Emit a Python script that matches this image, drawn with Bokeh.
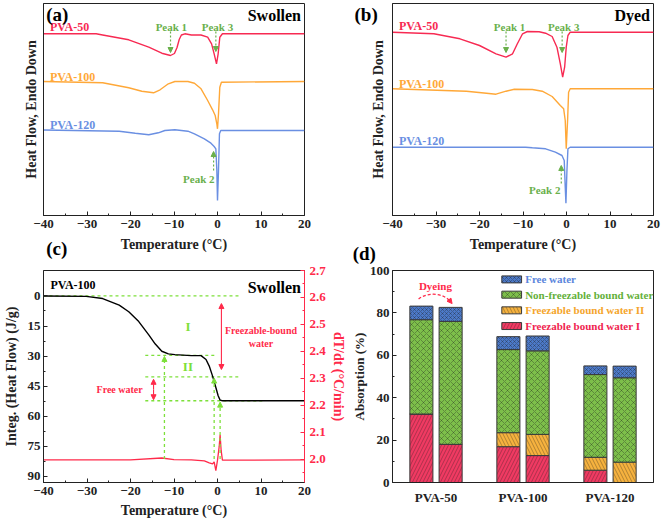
import numpy as np
from bokeh.plotting import figure
from bokeh.models import (Range1d, LinearAxis, Label, Arrow, NormalHead, GridBox,
                          FixedTicker, ColumnDataSource, PrintfTickFormatter)
from bokeh.embed import file_html
from bokeh.resources import INLINE

FONT = "Liberation Serif"

# ---------------- data ----------------
# (a) Swollen DSC curves (temperature in degC, heat flow in arbitrary offset units)
a50_T = [-40, -27.9, -26.4, -20.4, -15.8, -12.8, -10.8, -9.9, -9.3, -8.8, -8.3, -7.5, -6.0, -3.8,
         -2.26, -1.36, -0.77, -0.23, 0.15, 0.53, 1.13, 20]
a50_H = [181.7, 181.7, 180.5, 175.7, 168.3, 162.3, 160.0, 162.0, 168.0, 176.0, 180.5, 181.7, 180.5,
         180.5, 178.3, 171.7, 161.7, 151.7, 161.7, 178.3, 181.7, 181.7]
a100_T = [-40, -26.4, -20.4, -17.4, -14.7, -13.2, -11.3, -9.8, -6.8, -5.3, -3.78, -2.26, -1.13,
          -0.53, -0.15, 0.0, 0.23, 0.53, 0.9, 20]
a100_H = [134, 132.7, 127.7, 124.3, 122.7, 125.7, 131.7, 134, 134, 132.3, 126.7, 115, 105.7,
          100, 91.7, 86.7, 101.7, 128.3, 133.3, 134]
a120_T = [-40, -22.6, -18.9, -15.8, -13.6, -12.1, -9.8, -6.8, -5.3, -3.02, -1.51, -0.77, -0.38,
          -0.15, 0.0, 0.23, 0.45, 0.75, 20]
a120_H = [85.5, 84.3, 82.3, 80.7, 82.7, 85.0, 85.7, 84.3, 81.7, 76.7, 72.3, 69.0, 66.7,
          45.0, 15.0, 45.0, 81.7, 85.0, 85.0]

# (b) Dyed DSC curves
b50_T = [-40, -30.5, -24.5, -20.0, -16.2, -13.9, -12.4, -11.3, -10.1, -9.0, -6.3, -4.8, -3.3,
         -2.2, -1.42, -0.88, -0.43, -0.06, 0.33, 0.85, 20]
b50_H = [183.3, 181.7, 176.7, 170.0, 161.7, 158.3, 161.7, 171.7, 181.7, 184.0, 183.7, 182.3,
         179.0, 168.3, 151.7, 138.3, 148.3, 168.3, 180.0, 183.3, 183.3]
b100_T = [-40, -23.0, -18.4, -16.2, -13.9, -12.0, -7.85, -5.58, -3.3, -1.42, -0.65, -0.29,
          -0.06, 0.25, 0.48, 0.85, 20]
b100_H = [126.7, 124.3, 122.3, 121.3, 124.3, 126.3, 126.0, 124.3, 119.0, 110.0, 106.7, 95.0,
          66.7, 95.0, 123.3, 126.7, 126.7]
b120_T = [-40, -9.4, -7.85, -4.8, -2.56, -1.04, -0.52, -0.29, -0.13, 0.1, 0.33, 0.85, 20]
b120_H = [68.3, 68.3, 67.7, 66.7, 63.3, 60.0, 55.0, 28.3, 12.3, 45.0, 66.7, 68.3, 68.3]

# (c) PVA-100 swollen: integrated heat flow (J/g) and heating rate dT/dt (degC/min)
c_T = [-40, -30.2, -26.4, -22.6, -20.4, -18.1, -15.8, -14.3, -12.8, -11.3, -9.8, -6.04, -3.78,
       -2.64, -1.9, -1.13, -0.38, 0.15, 0.6, 1.13, 20]
c_J = [0, 0.2, 1.3, 4.6, 7.9, 12.8, 19.4, 24.0, 27.6, 28.9, 29.3, 29.8, 29.8,
       31.7, 35.0, 40.0, 45.7, 49.8, 52.0, 52.3, 52.3]
r_T = [-40, -20, -12.8, -10, -6, -3.02, -1.9, -1.13, -0.77, -0.38, 0.0, 0.38, 0.6, 0.83, 1.13, 20]
r_R = [1.997, 1.997, 2.004, 1.998, 1.997, 1.993, 1.986, 1.982, 1.990, 1.957, 1.996, 2.045,
       2.09, 2.033, 1.996, 1.997]
c_levels = [0, 29.7, 40.4, 52.3]           # J/g levels of the guide lines
c_level_from = [-40, -16.6, -16.6, -16.6]
c_level_to = [5.1, -0.15, 5.1, 10.6]
c_peak_T = [-12.2, -0.77, 0.6]              # temperatures of the vertical guides
c_peak_to = [30.2, 41.0, 53.0]

# (d) Absorption (%) by water type: Swollen (left bar) and Dyed (right bar)
groups = ["PVA-50", "PVA-100", "PVA-120"]
sw_I = [32.3, 16.9, 5.8]
sw_II = [0.0, 6.6, 6.1]
sw_NF = [44.5, 39.2, 39.0]
sw_Free = [6.4, 6.1, 4.1]
dy_I = [18.0, 12.7, 0.0]
dy_II = [0.0, 10.0, 9.6]
dy_NF = [58.0, 39.4, 39.8]
dy_Free = [6.6, 7.0, 5.5]
series_names = ["Freezable bound water I", "Freezable bound water II",
                "Non-freezable bound water", "Free water"]

# ---------------- colours ----------------
RED = "#F72A52"
ORANGE = "#FFA838"
BLUE = "#6A8FE2"
PEAK = "#6AB04C"
LIME = "#7DE03A"
CRED = "#FF2A4A"
BAR_COL = ["#F03A62", "#F6B23E", "#7DBF4A", "#4C79C8"]
BAR_TXT = ["#F0244F", "#F5A52C", "#63B03A", "#5B86DC"]
BAR_HATCH = ["/", "\\", "x", "x"]
BAR_SCALE = [7, 7, 6, 4]
AXC = "#222222"


def style_axis(ax, color=AXC, tick_size="13px"):
    ax.axis_line_color = color
    ax.axis_line_width = 1
    ax.major_tick_line_color = color
    ax.minor_tick_line_color = color
    ax.major_tick_in = 4
    ax.major_tick_out = 0
    ax.minor_tick_in = 2
    ax.minor_tick_out = 0
    ax.major_label_text_font = FONT
    ax.major_label_text_font_style = "bold"
    ax.major_label_text_font_size = tick_size
    ax.major_label_text_color = color
    ax.axis_label_text_font = FONT
    ax.axis_label_text_font_style = "bold"
    ax.axis_label_text_font_size = "14px"
    ax.axis_label_text_color = color
    ax.major_label_standoff = 4
    ax.axis_label_standoff = 3


def make_fig(w, h, xr, yr, l, r, t, b):
    p = figure(width=w, height=h, x_range=xr, y_range=yr, output_backend="svg",
               toolbar_location=None, min_border_left=l, min_border_right=r,
               min_border_top=t, min_border_bottom=b)
    p.grid.visible = False
    p.outline_line_color = AXC
    p.outline_line_width = 1
    p.background_fill_color = "white"
    p.border_fill_color = "white"
    return p


def label(p, x, y, text, color, size, align="left", baseline="middle", angle=0.0, rng="default"):
    p.add_layout(Label(x=x, y=y, text=text, text_color=color, text_font=FONT,
                       text_font_style="bold", text_font_size=size, text_align=align,
                       text_baseline=baseline, angle=angle, y_range_name=rng))


def arrow(p, x0, y0, x1, y1, color, dash="solid", size=5, width=1.2):
    p.add_layout(Arrow(end=NormalHead(size=size, fill_color=color, line_color=color, line_width=1),
                       x_start=x0, y_start=y0, x_end=x1, y_end=y1,
                       line_color=color, line_width=width, line_dash=dash))


W_LEFT, W_RIGHT, H_TOTAL = 348, 313, 520
FRAME_RIGHT, FRAME_LEFT2 = 305, 388


def dsc_panel(w, l, r, curves, tag, peaks, names_y, lab_standoff):
    p = make_fig(w, 255, Range1d(-40, 20), Range1d(0, 212), l, r, 3, 40)
    for (T, H), col in zip(curves, [RED, ORANGE, BLUE]):
        p.line(T, H, line_color=col, line_width=1.4)
    style_axis(p.xaxis[0])
    p.xaxis.ticker = FixedTicker(ticks=[-40, -30, -20, -10, 0, 10, 20],
                                 minor_ticks=[-35, -25, -15, -5, 5, 15])
    p.xaxis.axis_label = "Temperature (°C)"
    p.xaxis.axis_label_standoff = 6
    style_axis(p.yaxis[0])
    p.yaxis.ticker = FixedTicker(ticks=[])
    p.yaxis.major_label_standoff = 0
    p.yaxis.axis_label_standoff = lab_standoff
    p.yaxis.axis_label = "Heat Flow, Endo Down"
    for name, y, col in zip(["PVA-50", "PVA-100", "PVA-120"], names_y, [RED, ORANGE, BLUE]):
        label(p, -38.5, y, name, col, "12px")
    label(p, 19.2, 200, tag, "black", "16px", align="right")
    for txt, tx, ty, ax, ay0, ay1 in peaks:
        label(p, tx, ty, txt, PEAK, "11px", align="center")
        arrow(p, ax, ay0, ax, ay1, PEAK, dash="2 2", size=5)
    return p


pa = dsc_panel(W_LEFT, 40, W_LEFT - FRAME_RIGHT,
               [(a50_T, a50_H), (a100_T, a100_H), (a120_T, a120_H)], "Swollen",
               [("Peak 1", -10.6, 189, -10.8, 184, 163),
                ("Peak 3", 0.0, 189, -0.38, 184, 164),
                ("Peak 2", -4.3, 37, -0.9, 45, 64)],
               [188.3, 139, 91], 5)

pb = dsc_panel(W_RIGHT, FRAME_LEFT2 - W_LEFT, 8,
               [(b50_T, b50_H), (b100_T, b100_H), (b120_T, b120_H)], "Dyed",
               [("Peak 1", -13.1, 189, -13.9, 184, 163),
                ("Peak 3", -0.65, 189, -1.0, 184, 163),
                ("Peak 2", -5.0, 26, -1.2, 32, 50)],
               [190, 131.7, 75], 7)

# ---------------- (c) ----------------
pc = make_fig(W_LEFT, 265, Range1d(-40, 20), Range1d(93.1, -12.7), 40, W_LEFT - FRAME_RIGHT,
              13, 37)
pc.extra_y_ranges = {"rate": Range1d(1.913, 2.7)}
style_axis(pc.xaxis[0])
pc.xaxis.ticker = FixedTicker(ticks=[-40, -30, -20, -10, 0, 10, 20],
                              minor_ticks=[-35, -25, -15, -5, 5, 15])
pc.xaxis.axis_label = "Temperature (°C)"
pc.xaxis.axis_label_standoff = 5
style_axis(pc.yaxis[0])
pc.yaxis.ticker = FixedTicker(ticks=[0, 15, 30, 45, 60, 75, 90],
                              minor_ticks=[7.5, 22.5, 37.5, 52.5, 67.5, 82.5])
pc.yaxis.major_label_standoff = 3
pc.yaxis.axis_label_standoff = 6
pc.yaxis.axis_label = "Integ. (Heat Flow) (J/g)"
rax = LinearAxis(y_range_name="rate",
                 ticker=FixedTicker(ticks=[2.0, 2.1, 2.2, 2.3, 2.4, 2.5, 2.6, 2.7],
                                    minor_ticks=[1.95, 2.05, 2.15, 2.25, 2.35, 2.45, 2.55, 2.65]),
                 formatter=PrintfTickFormatter(format="%.1f"))
style_axis(rax, color=CRED)
rax.major_label_standoff = 5
rax.axis_label_standoff = 2
rax.axis_label = "dT/dt (°C/min)"
pc.add_layout(rax, "right")

pc.segment(x0=c_level_from, y0=c_levels, x1=c_level_to, y1=c_levels,
           line_color=LIME, line_width=1.3, line_dash="3 3")
for T, top in zip(c_peak_T, c_peak_to):
    arrow(pc, T, 81.4, T, top, LIME, dash="3 3", size=5, width=1.3)
pc.line(c_T, c_J, line_color="black", line_width=1.4)
pc.line(r_T, r_R, line_color=CRED, line_width=1.3, y_range_name="rate")
arrow(pc, 0.9, 20, 0.9, 3.8, CRED, size=5, width=1.1)
arrow(pc, 0.9, 20, 0.9, 36.7, CRED, size=5, width=1.1)
arrow(pc, -14.7, 46.7, -14.7, 41.6, CRED, size=5, width=1.1)
arrow(pc, -14.7, 46.7, -14.7, 51.8, CRED, size=5, width=1.1)
label(pc, 10.0, 17.3, "Freezable-bound", CRED, "10px", align="center")
label(pc, 10.0, 23.8, "water", CRED, "10px", align="center")
label(pc, -22.5, 46.9, "Free water", CRED, "10px", align="center")
label(pc, -6.8, 15.3, "I", LIME, "13px", align="center")
label(pc, -6.8, 35.0, "II", LIME, "13px", align="center")
label(pc, -38.4, -5.3, "PVA-100", "black", "12px")
label(pc, 19.2, -4.4, "Swollen", "black", "16px", align="right")

# ---------------- (d) ----------------
pd = make_fig(W_RIGHT, 265, Range1d(0.5, 3.5), Range1d(0, 100), FRAME_LEFT2 - W_LEFT, 8, 15, 38)
style_axis(pd.yaxis[0])
pd.yaxis.ticker = FixedTicker(ticks=[0, 20, 40, 60, 80, 100],
                              minor_ticks=[10, 30, 50, 70, 90])
pd.yaxis.major_label_standoff = 3
pd.yaxis.axis_label_standoff = 0
pd.yaxis.axis_label = "Absorption (%)"
pd.yaxis.axis_label_text_font_size = "13px"
style_axis(pd.xaxis[0])
pos = np.arange(1, len(groups) + 1)
pd.xaxis.ticker = FixedTicker(ticks=list(pos))
pd.xaxis.major_label_overrides = {int(k): g for k, g in zip(pos, groups)}
pd.xaxis.major_tick_in = 0
pd.xaxis.major_label_standoff = 7

OFF, BW = 0.168, 0.265
stackers = ["I", "II", "NF", "Free"]
src_sw = ColumnDataSource(dict(x=pos - OFF, I=sw_I, II=sw_II, NF=sw_NF, Free=sw_Free))
src_dy = ColumnDataSource(dict(x=pos + OFF, I=dy_I, II=dy_II, NF=dy_NF, Free=dy_Free))
for src in (src_sw, src_dy):
    pd.vbar_stack(stackers, x="x", width=BW, source=src, fill_color=BAR_COL,
                  line_color="#3a3a3a", line_width=1, hatch_pattern=BAR_HATCH,
                  hatch_scale=BAR_SCALE, hatch_color="#1a1a1a", hatch_alpha=0.45,
                  hatch_weight=0.7)

# legend (top to bottom: Free, NF, II, I)
leg_y = [95.8, 88.6, 81.2, 73.8]
order = [3, 2, 1, 0]
leg = ColumnDataSource(dict(x=[1.87] * 4, y=leg_y,
                            c=[BAR_COL[i] for i in order],
                            h=[BAR_HATCH[i] for i in order],
                            s=[BAR_SCALE[i] for i in order]))
pd.rect(x="x", y="y", width=0.227, height=3.3, source=leg, fill_color="c",
        line_color="#3a3a3a", line_width=1, hatch_pattern="h", hatch_scale="s",
        hatch_color="#1a1a1a", hatch_alpha=0.45, hatch_weight=0.7)
for yy, i in zip(leg_y, order):
    label(pd, 2.025, yy, series_names[i], BAR_TXT[i], "11px")

# Dyeing curved arrow
pd.bezier(x0=[0.80], y0=[86.6], x1=[1.16], y1=[85.6], cx0=[0.90], cy0=[89.7],
          cx1=[1.07], cy1=[89.7], line_color=CRED, line_width=1.3, line_dash="3 2")
arrow(pd, 1.15, 86.2, 1.185, 84.4, CRED, size=5, width=1.0)
label(pd, 0.993, 92.6, "Dyeing", CRED, "11px", align="center")

# ---------------- overlay: panel letters (page pixels, y from bottom) ----------------
ov = figure(width=W_LEFT + W_RIGHT, height=H_TOTAL, x_range=Range1d(0, W_LEFT + W_RIGHT),
            y_range=Range1d(0, H_TOTAL), output_backend="svg", toolbar_location=None,
            min_border=0)
ov.axis.visible = False
ov.grid.visible = False
ov.outline_line_color = None
ov.background_fill_alpha = 0
ov.border_fill_alpha = 0
for txt, x, y in [("(a)", 3, 11.5), ("(b)", 337, 11.5), ("(c)", 3, 266.5), ("(d)", 335, 271)]:
    label(ov, x, H_TOTAL - y, txt, "black", "19px")

layout = GridBox(children=[(pa, 0, 0), (pb, 0, 1), (pc, 1, 0), (pd, 1, 1),
                           (ov, 0, 0, 2, 2)], spacing=0)
open("out.html", "w").write(file_html(layout, INLINE))
